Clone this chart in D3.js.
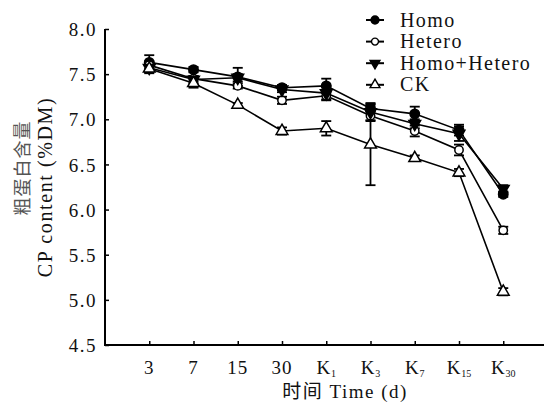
<!DOCTYPE html>
<html>
<head>
<meta charset="utf-8">
<script src="https://cdn.jsdelivr.net/npm/d3@7"></script>
<style>
  body { margin: 0; background: #fff; }
  text { font-family: "Liberation Serif", "Noto Sans CJK SC", serif; fill: #111; }
</style>
</head>
<body>
<svg id="chart" width="544" height="404"></svg>
<script>
// sampling days
var categories = ['3', '7', '15', '30', 'K1', 'K3', 'K7', 'K15', 'K30'];
var tickMain = ['3', '7', '15', '30', 'K', 'K', 'K', 'K', 'K'];
var tickSub = ['', '', '', '', '1', '3', '7', '15', '30'];
var yTicks = [4.5, 5.0, 5.5, 6.0, 6.5, 7.0, 7.5, 8.0];

var seriesNames = ['Homo', 'Hetero', 'Homo+Hetero', 'CK'];
var homo = [7.63, 7.55, 7.47, 7.35, 7.37, 7.12, 7.06, 6.88, 6.17];
var homoSd = [0.08, 0.03, 0.10, 0.03, 0.08, 0.04, 0.08, 0.06, 0.03];
var hetero = [7.60, 7.45, 7.37, 7.21, 7.26, 7.04, 6.87, 6.66, 5.77];
var heteroSd = [0.04, 0.03, 0.03, 0.04, 0.04, 0.05, 0.06, 0.06, 0.04];
var homoHetero = [7.57, 7.44, 7.46, 7.33, 7.29, 7.08, 6.95, 6.84, 6.23];
var homoHeteroSd = [0.06, 0.04, 0.04, 0.03, 0.08, 0.10, 0.05, 0.08, 0.04];
var ck = [7.56, 7.40, 7.16, 6.87, 6.90, 6.72, 6.57, 6.41, 5.09];
var ckSd = [0.04, 0.05, 0.02, 0.04, 0.08, 0.45, 0.03, 0.04, 0.04];

var svg = d3.select('#chart');
var mLeft = 105, mRight = 547.5, mTop = 29, mBottom = 345;

var x = d3.scalePoint().domain(categories).range([mLeft, mRight]).padding(1);
var y = d3.scaleLinear().domain([4.5, 8]).range([mBottom, mTop]);

// symbols
var shapes = [
  {type: d3.symbolCircle, size: 70, fill: '#000'},
  {type: d3.symbolCircle, size: 55, fill: '#fff'},
  {type: d3.symbolTriangle, size: 60, fill: '#000', rot: 180},
  {type: d3.symbolTriangle, size: 60, fill: '#fff', rot: 0}
];
var series = [homo, hetero, homoHetero, ck].map(function (vals, i) {
  var sds = [homoSd, heteroSd, homoHeteroSd, ckSd][i];
  return {name: seriesNames[i], shape: shapes[i], points: vals.map(function (v, j) {
    return {cat: categories[j], v: v, sd: sds[j]};
  })};
});

// axes
var yAxis = d3.axisLeft(y).tickValues(yTicks).tickSize(-4).tickPadding(10).tickFormat(d3.format('.1f'));
var gy = svg.append('g').attr('transform', 'translate(' + mLeft + ',0)').call(yAxis);
gy.select('.domain').remove();
gy.selectAll('.tick line').attr('stroke', '#000').attr('stroke-width', 1.5);
gy.selectAll('.tick text').style('font-size', '19px').style('letter-spacing', '1.5px')
  .attr('x', -8).attr('dy', '0.35em');

var xAxis = d3.axisBottom(x).tickSize(-4).tickFormat('');
var gx = svg.append('g').attr('transform', 'translate(0,' + mBottom + ')').call(xAxis);
gx.select('.domain').remove();
gx.selectAll('.tick line').attr('stroke', '#000').attr('stroke-width', 1.5);

svg.append('line').attr('x1', mLeft).attr('x2', mLeft).attr('y1', mTop).attr('y2', mBottom + 1)
  .attr('stroke', '#000').attr('stroke-width', 2);
svg.append('line').attr('x1', mLeft - 1).attr('x2', 544).attr('y1', mBottom).attr('y2', mBottom)
  .attr('stroke', '#000').attr('stroke-width', 2);

// x tick labels with subscripts
var xl = svg.append('g').selectAll('text').data(categories).enter().append('text')
  .attr('x', function (d) { return x(d); })
  .attr('y', 374)
  .attr('text-anchor', 'middle')
  .style('font-size', '19px').style('letter-spacing', '1px');
xl.append('tspan').text(function (d, i) { return tickMain[i]; });
xl.append('tspan').attr('dy', 3).style('font-size', '10px').style('letter-spacing', '0px')
  .text(function (d, i) { return tickSub[i]; });

// axis titles
svg.append('text').attr('x', 345).attr('y', 398).attr('text-anchor', 'middle')
  .style('font-size', '19px').style('letter-spacing', '1.5px').text('时间 Time (d)');
svg.append('text').attr('transform', 'translate(29,168) rotate(-90)').attr('text-anchor', 'middle')
  .style('font-size', '18px').style('letter-spacing', '1px').style('fill', '#555').text('粗蛋白含量');
svg.append('text').attr('transform', 'translate(52,187) rotate(-90)').attr('text-anchor', 'middle')
  .style('font-size', '20px').style('letter-spacing', '1.6px').text('CP content (%DM)');

var line = d3.line().x(function (d) { return x(d.cat); }).y(function (d) { return y(d.v); });

var g = svg.append('g');
series.forEach(function (s) {
  g.append('path').datum(s.points).attr('d', line)
    .attr('fill', 'none').attr('stroke', '#000').attr('stroke-width', 1.6);
});
series.forEach(function (s) {
  var eb = g.append('g').selectAll('g').data(s.points).enter().append('g')
    .attr('stroke', '#000').attr('stroke-width', 1.8);
  eb.append('line').attr('x1', function (d) { return x(d.cat); }).attr('x2', function (d) { return x(d.cat); })
    .attr('y1', function (d) { return y(d.v + d.sd); }).attr('y2', function (d) { return y(d.v - d.sd); });
  eb.append('line').attr('x1', function (d) { return x(d.cat) - 5; }).attr('x2', function (d) { return x(d.cat) + 5; })
    .attr('y1', function (d) { return y(d.v + d.sd); }).attr('y2', function (d) { return y(d.v + d.sd); });
  eb.append('line').attr('x1', function (d) { return x(d.cat) - 5; }).attr('x2', function (d) { return x(d.cat) + 5; })
    .attr('y1', function (d) { return y(d.v - d.sd); }).attr('y2', function (d) { return y(d.v - d.sd); });
});
series.forEach(function (s) {
  g.append('g').selectAll('path').data(s.points).enter().append('path')
    .attr('d', d3.symbol().type(s.shape.type).size(s.shape.size))
    .attr('transform', function (d) {
      return 'translate(' + x(d.cat) + ',' + y(d.v) + ') rotate(' + (s.shape.rot || 0) + ')';
    })
    .attr('fill', s.shape.fill).attr('stroke', '#000').attr('stroke-width', 1.5);
});

// legend
var legend = svg.append('g').selectAll('g').data(series).enter().append('g')
  .attr('transform', function (d, i) { return 'translate(375,' + (20 + i * 21.6) + ')'; });
legend.append('line').attr('x1', -9).attr('x2', 9).attr('y1', 0).attr('y2', 0)
  .attr('stroke', '#000').attr('stroke-width', 2);
legend.append('path')
  .attr('d', function (d) { return d3.symbol().type(d.shape.type).size(d.shape.size * 0.7)(); })
  .attr('transform', function (d) { return 'rotate(' + (d.shape.rot || 0) + ')'; })
  .attr('fill', function (d) { return d.shape.fill; }).attr('stroke', '#000').attr('stroke-width', 1.4);
legend.append('text').attr('x', 25).attr('y', 6.5)
  .style('font-size', '20px').style('letter-spacing', '1.4px')
  .text(function (d) { return d.name; });
</script>
</body>
</html>
